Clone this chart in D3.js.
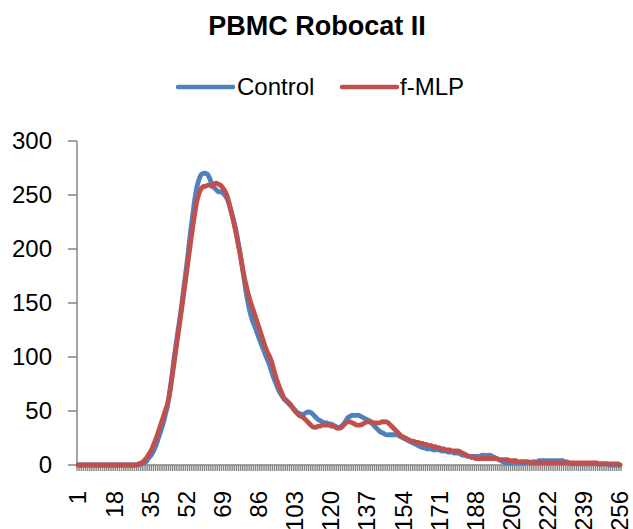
<!DOCTYPE html>
<html>
<head>
<meta charset="utf-8">
<script src="https://cdn.jsdelivr.net/npm/d3@7"></script>
<style>
  html, body { margin: 0; padding: 0; background: #ffffff; }
  svg { display: block; }
</style>
</head>
<body>
<svg id="chart" width="633" height="529"></svg>
<script>
// ---------- DATA ----------
const title = "PBMC Robocat II";
const seriesNames = ["Control", "f-MLP"];
const categories = d3.range(1, 257);
const xTickLabels = [1, 18, 35, 52, 69, 86, 103, 120, 137, 154, 171, 188, 205, 222, 239, 256];
const yTicks = [0, 50, 100, 150, 200, 250, 300];

const control = [
  0,0,0,0,0,0,0,0,0,0,
  0,0,0,0,0,0,0,0,0,0,
  0,0,0,0,0,0,0,0,0,0.5,
  1,2,3,6,8,11,15,20,26,32,
  38,46,54,66,80,96,110,124,137,152,
  168,183,200,217,232,247,258,265,269,270,
  270,269,265,260,257,255,253,253,252,250,
  247,242,235,228,220,210,199,187,174,161,
  150,141,134,129,124,118,113,108,103,98,
  93,87,81,76,71,67,64,61,59,57,
  55,53,51,49,48,47,47,48,49,49,
  48,46,44,42,41,40,39,39,38,38,
  37,36,35,35,36,38,41,44,45,46,
  46,46,46,45,44,43,42,41,39,37,
  35,33,31,30,29,28,28,28,28,28,
  28,27,26,25,24,23,22,21,20,19,
  18,17,16,16,15,15,15,14,14,14,
  14,13,13,13,12,12,12,11,11,11,
  10,9,9,8,8,8,8,8,8,8,
  9,9,9,9,9,8,7,6,5,4,
  3,2,2,2,2,2,2,2,2,2,
  2,2,2,2,3,3,3,4,4,4,
  4,4,4,4,4,4,4,4,4,3,
  3,2,1,1,1,1,1,1,1,1,
  1,1,1,1,1,1,1,1,1,1,
  0,0,0,0,0,0
];

const fmlp = [
  0,0,0,0,0,0,0,0,0,0,
  0,0,0,0,0,0,0,0,0,0,
  0,0,0,0,0,0,0,0,0.5,1.5,
  2,4,6,9,12,16,21,26,32,38,
  44,50,56,65,78,92,106,120,134,148,
  163,177,192,207,221,234,245,252,256,258,
  258,259,259,258,260,261,260,259,257,254,
  250,243,235,227,218,208,198,187,176,167,
  159,152,146,140,134,128,122,116,110,105,
  101,96,89,82,76,71,66,62,60,58,
  56,53,50,48,46,45,44,42,40,38,
  36,35,35,36,36,37,37,37,37,36,
  36,35,34,34,35,37,39,40,40,39,
  38,37,37,37,38,39,40,40,40,39,
  39,39,39,40,40,40,39,37,35,33,
  31,29,27,26,25,24,23,22,22,21,
  21,20,20,19,19,18,18,17,17,16,
  16,15,15,14,14,14,13,13,13,13,
  12,11,10,9,8,7,7,6,6,6,
  6,6,6,6,6,6,6,6,5,5,
  5,5,5,4,4,4,4,3,3,3,
  3,3,3,2,2,2,2,2,2,2,
  2,2,2,2,2,2,2,2,2,2,
  2,2,2,2,2,2,2,2,2,2,
  2,2,2,2,2,1,1,1,1,1,
  1,1,1,1,1,0
];

const colors = ["#4F81BD", "#C0504D"];

// ---------- LAYOUT ----------
const svg = d3.select("#chart");
const FONT = "'Liberation Sans', Arial, sans-serif";
const axisColor = "#868686";
const plot = { left: 77, right: 621, top: 141, bottom: 465 };

const x = d3.scaleBand().domain(categories).range([plot.left, plot.right]).padding(0);
const y = d3.scaleLinear().domain([0, 300]).range([plot.bottom, plot.top]);

// Title
svg.append("text")
  .attr("x", 317).attr("y", 35)
  .attr("text-anchor", "middle")
  .attr("font-family", FONT).attr("font-weight", "bold").attr("font-size", 27)
  .attr("fill", "#000")
  .text(title);

// Legend
const legendItems = [
  { name: seriesNames[0], color: colors[0], x1: 178, x2: 233, tx: 237 },
  { name: seriesNames[1], color: colors[1], x1: 342, x2: 397, tx: 400 }
];
legendItems.forEach(d => {
  svg.append("line")
    .attr("x1", d.x1).attr("x2", d.x2).attr("y1", 87).attr("y2", 87)
    .attr("stroke", d.color).attr("stroke-width", 4.5).attr("stroke-linecap", "round");
  svg.append("text")
    .attr("x", d.tx).attr("y", 95)
    .attr("font-family", FONT).attr("font-size", 24).attr("fill", "#000")
    .text(d.name);
});

// Y axis
const gy = svg.append("g");
gy.append("line")
  .attr("x1", plot.left).attr("x2", plot.left)
  .attr("y1", plot.top).attr("y2", plot.bottom)
  .attr("stroke", axisColor).attr("stroke-width", 1.5);
yTicks.forEach(t => {
  gy.append("line")
    .attr("x1", 68).attr("x2", plot.left)
    .attr("y1", y(t)).attr("y2", y(t))
    .attr("stroke", axisColor).attr("stroke-width", 1.5);
  gy.append("text")
    .attr("x", 52).attr("y", y(t)).attr("dy", "0.35em")
    .attr("text-anchor", "end")
    .attr("font-family", FONT).attr("font-size", 24).attr("fill", "#000")
    .text(t);
});

// X axis ticks at category boundaries
const gx = svg.append("g");
const boundaries = categories.map(c => x(c)).concat([plot.right]);
gx.selectAll("line.tick").data(boundaries).enter().append("line")
  .attr("class", "tick")
  .attr("x1", d => d).attr("x2", d => d)
  .attr("y1", plot.bottom).attr("y2", plot.bottom + 6)
  .attr("stroke", axisColor).attr("stroke-width", 1.4);
gx.append("line")
  .attr("x1", plot.left).attr("x2", plot.right)
  .attr("y1", plot.bottom).attr("y2", plot.bottom)
  .attr("stroke", axisColor).attr("stroke-width", 1.5);
xTickLabels.forEach(c => {
  const cx = x(c) + x.bandwidth() / 2;
  svg.append("text")
    .attr("transform", `translate(${cx},491) rotate(-90)`)
    .attr("dy", "0.35em")
    .attr("text-anchor", "end")
    .attr("font-family", FONT).attr("font-size", 24).attr("fill", "#000")
    .text(c);
});

// Lines
const line = d3.line()
  .x((d, i) => x(categories[i]) + x.bandwidth() / 2)
  .y(d => y(d))
  .curve(d3.curveCatmullRom.alpha(0.5));

[control, fmlp].forEach((vals, k) => {
  svg.append("path")
    .attr("d", line(vals))
    .attr("fill", "none")
    .attr("stroke", colors[k])
    .attr("stroke-width", 4.8)
    .attr("stroke-linejoin", "round")
    .attr("stroke-linecap", "round");
});
</script>
</body>
</html>
